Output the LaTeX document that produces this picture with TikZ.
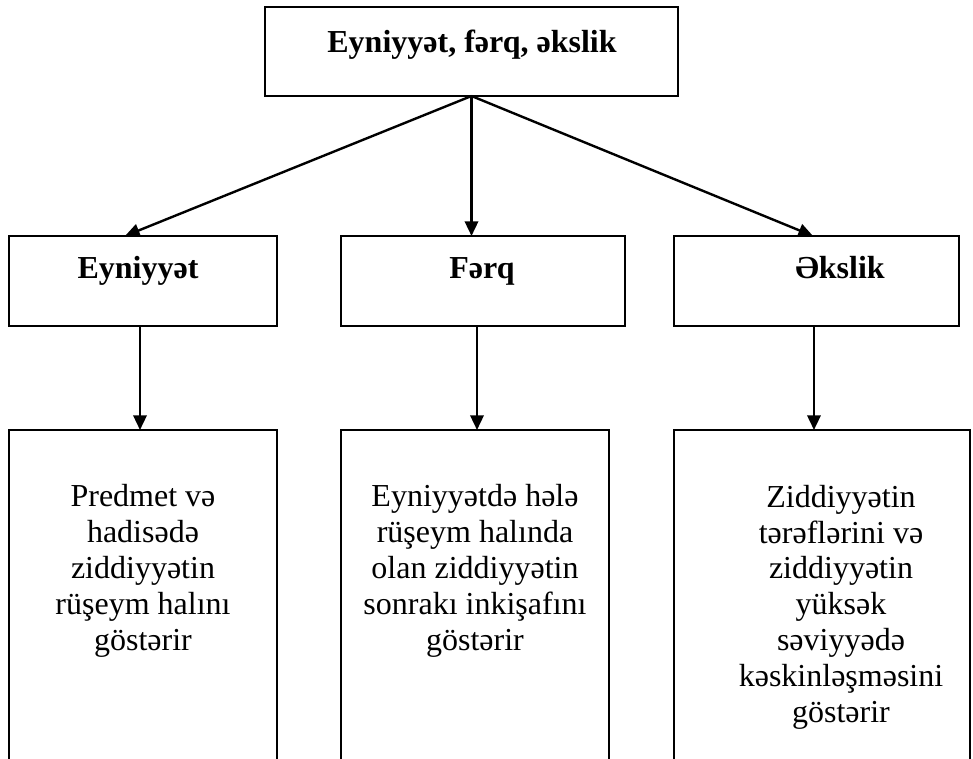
\documentclass[tikz,border=0pt]{standalone}
\usepackage{fontspec}
\setmainfont{Liberation Serif}
\usetikzlibrary{arrows.meta}
\tikzset{
  box/.style={draw, line width=1.3pt, rectangle, inner sep=0pt, outer sep=0pt},
  head/.style={font=\fontsize{24pt}{27pt}\selectfont\bfseries, anchor=base, inner sep=0pt},
  body/.style={font=\fontsize{24pt}{26.85pt}\selectfont, align=center, anchor=base, inner sep=0pt},
  arr/.style={draw, line width=1.8pt, -{Triangle[length=11pt,width=10pt]}}
}
\begin{document}
\begin{tikzpicture}[x=0.75pt,y=-0.75pt]
\clip (0,0) rectangle (973,759);
\fill[white] (0,0) rectangle (973,759);
% boxes
\node[box, minimum width=309.75pt, minimum height=66.75pt] (top) at (471.5,51.5) {};
\node[box, minimum width=201pt, minimum height=67.5pt] (b1) at (143,281) {};
\node[box, minimum width=213pt, minimum height=67.5pt] (b2) at (483,281) {};
\node[box, minimum width=213.75pt, minimum height=67.5pt] (b3) at (816.5,281) {};
\node[box, minimum width=201pt, minimum height=277.5pt] (c1) at (143,615) {};
\node[box, minimum width=201pt, minimum height=277.5pt] (c2) at (475,615) {};
\node[box, minimum width=222pt, minimum height=277.5pt] (c3) at (822,615) {};
% texts
\node[head] (ttop) at (472,53) {Eyniyyət, fərq, əkslik};
\node[head] (tb1) at (138,278) {Eyniyyət};
\node[head] (tb2) at (482,278) {Fərq};
\node[head] (tb3) at (840,278) {Əkslik};
\node[body] (tc1) at (143,650) {Predmet və\\hadisədə\\ziddiyyətin\\rüşeym halını\\göstərir};
\node[body] (tc2) at (475,650) {Eyniyyətdə hələ\\rüşeym halında\\olan ziddiyyətin\\sonrakı inkişafını\\göstərir};
\node[body] (tc3) at (841,722) {Ziddiyyətin\\tərəflərini və\\ziddiyyətin\\yüksək\\səviyyədə\\kəskinləşməsini\\göstərir};
% connectors
\draw[arr] (top.south) -- ([xshift=-13.5pt]b1.north);
\draw[arr] (top.south) -- (top.south |- b2.north);
\draw[arr] (top.south) -- ([xshift=-2.6pt]b3.north);
\draw[arr] ([xshift=-2.25pt]b1.south) -- ([xshift=-2.25pt]c1.north);
\draw[arr] ([xshift=-4.5pt]b2.south) -- ([xshift=-4.5pt]b2.south |- c2.north);
\draw[arr] ([xshift=-1.9pt]b3.south) -- ([xshift=-1.9pt]b3.south |- c3.north);
\end{tikzpicture}
\end{document}
